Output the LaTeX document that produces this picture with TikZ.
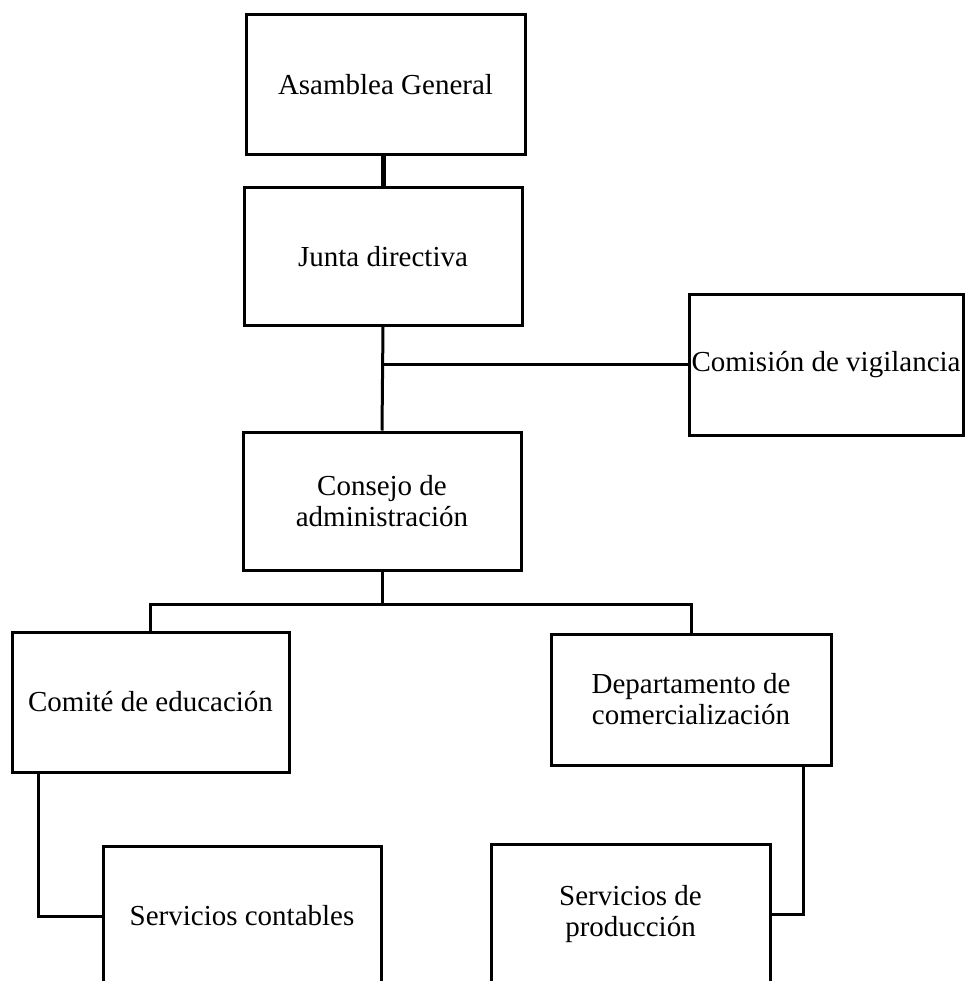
\documentclass[tikz,border=0pt]{standalone}
\usepackage{fontspec}
\setmainfont{Liberation Serif}
\begin{document}
\begin{tikzpicture}[x=1pt,y=-1pt,
  orgbox/.style={draw=black, line width=3pt, rectangle, inner sep=0pt, align=center,
    font=\fontsize{29}{31}\selectfont},
  link/.style={draw=black, line width=3pt},
  thicklink/.style={draw=black, line width=5pt}]
\clip (0,0) rectangle (966,981);
\fill[white] (0,0) rectangle (966,981);
\node[orgbox, minimum width=279pt, minimum height=140pt] (asam) at (385.5,85) {Asamblea General};
\node[orgbox, minimum width=278pt, minimum height=137pt] (junta) at (383,256.5) {Junta directiva};
\node[orgbox, minimum width=274pt, minimum height=141pt] (comision) at (826,364.5) {Comisión de vigilancia};
\node[orgbox, minimum width=278pt, minimum height=138pt] (consejo) at (382,501) {Consejo de\\administración};
\node[orgbox, minimum width=277pt, minimum height=140pt] (comite) at (150.5,702) {Comité de educación};
\node[orgbox, minimum width=280pt, minimum height=131pt] (depto) at (691,699.5) {Departamento de\\comercialización};
\node[orgbox, minimum width=278pt, minimum height=140pt] (contables) at (242,916) {Servicios contables};
\node[orgbox, minimum width=279pt, minimum height=140pt] (produccion) at (630.5,914) {Servicios de\\producción};
\coordinate (branch) at (382,604);
\draw[thicklink] (asam.south -| junta.north) -- (junta.north);
\draw[link] (junta.south) -- (consejo.north);
\draw[link] (comision.west) -- (comision.west -| junta.south);
\draw[link] (consejo.south) -- (branch);
\draw[link] (comite.north) |- (branch) -| (depto.north);
\draw[link] ([xshift=28pt]comite.south west) |- (contables.west);
\draw[link] ([xshift=-29pt]depto.south east) |- (produccion.east);
\end{tikzpicture}
\end{document}
